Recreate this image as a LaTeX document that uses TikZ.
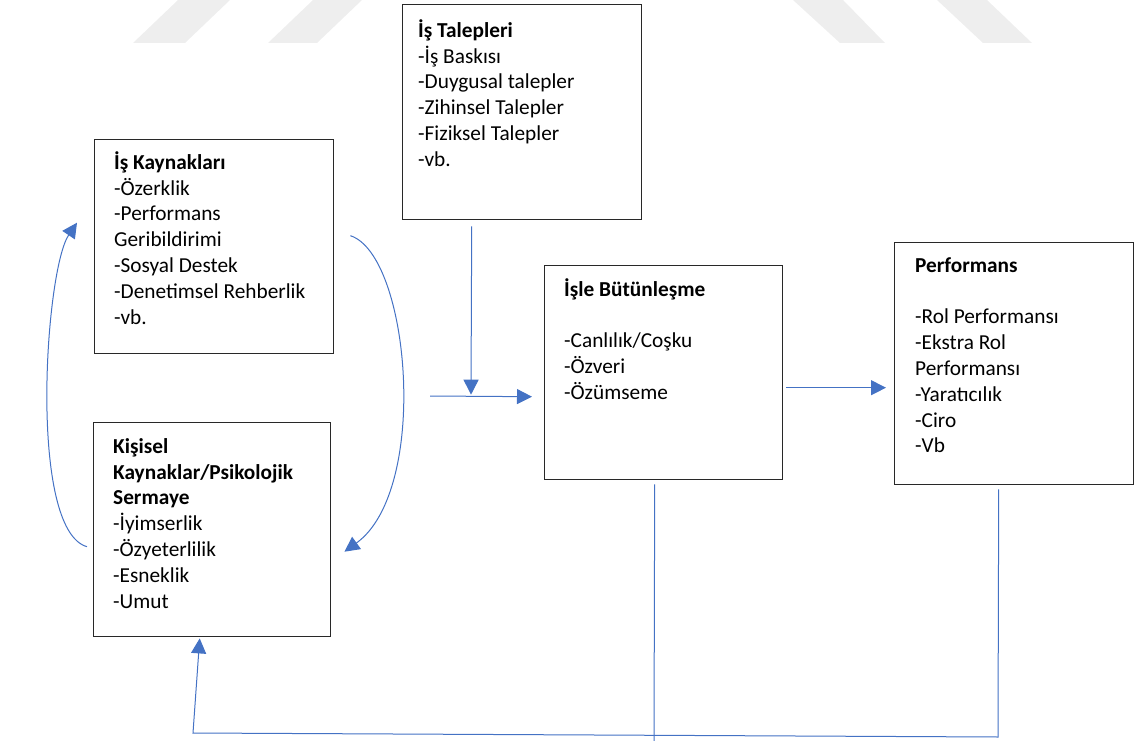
\documentclass[tikz,border=0pt]{standalone}
\usepackage{fontspec}
\setmainfont{Carlito}
\usepackage{tikz}
\usetikzlibrary{arrows.meta,calc,positioning}
\definecolor{lineblue}{RGB}{68,114,196}
\definecolor{boxgray}{RGB}{40,40,40}
\definecolor{markgray}{RGB}{238,238,238}
\tikzstyle{blockbox} = [draw=boxgray, line width=1.4pt, anchor=north west, inner sep=0pt]
\tikzstyle{boxtext} = [anchor=north west, align=left, inner sep=0pt, font=\fontsize{21.3}{25.8}\selectfont]
\tikzstyle{flow} = [line width=1pt, color=lineblue, -{Triangle[length=15pt,width=15pt]}]
\tikzstyle{feedline} = [line width=1pt, color=lineblue]

\begin{document}
\begin{tikzpicture}[x=1pt, y=-1pt]
\useasboundingbox (0,0) rectangle (1135,741);

% faint marks at the top
\fill[markgray] (133,43) -- (178,0) -- (230,0) -- (185,43) -- cycle;
\fill[markgray] (268,43) -- (313,0) -- (362,0) -- (317,43) -- cycle;
\fill[markgray] (793,0) -- (843,0) -- (885,43) -- (840,43) -- cycle;
\fill[markgray] (937,0) -- (987,0) -- (1032,43) -- (983,43) -- cycle;

% boxes
\node[blockbox, minimum width=239pt, minimum height=215pt] (tal) at (402,4) {};
\node[blockbox, minimum width=239pt, minimum height=214pt] (kay) at (94,139) {};
\node[blockbox, minimum width=237pt, minimum height=214pt] (kis) at (93,422) {};
\node[blockbox, minimum width=238pt, minimum height=214pt] (but) at (544,265) {};
\node[blockbox, minimum width=239pt, minimum height=242pt] (perf) at (894,242) {};

% texts inside
\node[boxtext] (tal-t) at ($(tal.north west)+(16,15)$)
  {\strut\textbf{İş Talepleri}\\-İş Baskısı\\-Duygusal talepler\\-Zihinsel Talepler\\-Fiziksel Talepler\\-vb.};
\node[boxtext] (kay-t) at ($(kay.north west)+(20,12)$)
  {\strut\textbf{İş Kaynakları}\\-Özerklik\\-Performans\\Geribildirimi\\-Sosyal Destek\\-Denetimsel Rehberlik\\-vb.};
\node[boxtext] (kis-t) at ($(kis.north west)+(20,13)$)
  {\strut\textbf{Kişisel}\\\textbf{Kaynaklar/Psikolojik}\\\textbf{Sermaye}\\-İyimserlik\\-Özyeterlilik\\-Esneklik\\-Umut};
\node[boxtext] (but-t) at ($(but.north west)+(20,13)$)
  {\strut\textbf{İşle Bütünleşme}\\[25.8pt]-Canlılık/Coşku\\-Özveri\\-Özümseme};
\node[boxtext] (perf-t) at ($(perf.north west)+(21,12)$)
  {\strut\textbf{Performans}\\[25.8pt]-Rol Performansı\\-Ekstra Rol\\Performansı\\-Yaratıcılık\\-Ciro\\-Vb};

% free ends
\coordinate (in) at (430,396);
\coordinate (bR) at (998,737);
\coordinate (bL) at (193,733);
\coordinate (bM) at (654,741);

% main flow
\draw[flow] ($(tal.south)+(-50.5,6)$) -- ($(but.west)+(-73,22)$);
\draw[flow] (in) -- ($(but.west)+(-12,24)$);
\draw[flow] ($(but.east)+(3,15)$) -- ($(perf.west)+(-8,24)$);

% resources loop
\draw[flow] ($(kay.east)+(16,-11)$) .. controls (410,255) and (430,490) .. ($(kis.east)+(13,22)$);
\draw[flow] ($(kis.west)+(-6,17)$) .. controls (28,530) and (45,270) .. ($(kay.west)+(-17,-24)$);

% feedback
\draw[flow] ($(perf.south)+(-15.5,4)$) -- (bR) -- (bL) -- ($(kis.south)+(-12.5,1)$);
\draw[feedline] ($(but.south)+(-9,4)$) -- (bM);
\end{tikzpicture}
\end{document}
